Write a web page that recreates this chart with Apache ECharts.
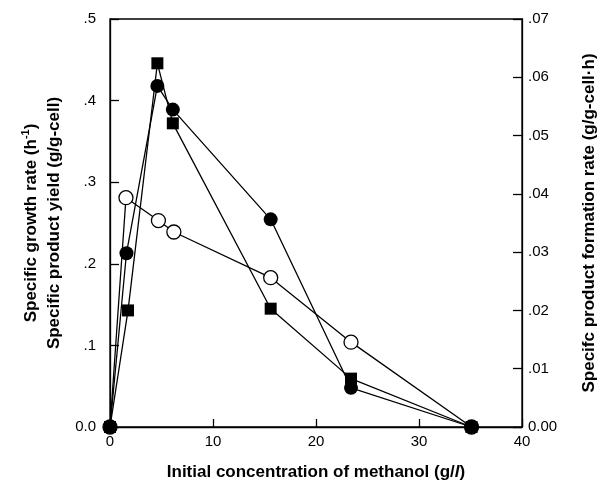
<!DOCTYPE html>
<html>
<head>
<meta charset="utf-8">
<script src="https://cdn.jsdelivr.net/npm/echarts@6/dist/echarts.min.js"></script>
<style>html,body{margin:0;padding:0;background:#fff}#c{width:606px;height:491px}</style>
</head>
<body>
<div id="c"></div>
<script>
// Open circles (left axis)
const openX = [0, 1.55, 4.7, 6.2, 15.6, 23.4, 35.1];
const openY = [0, 0.281, 0.253, 0.239, 0.183, 0.104, 0];
// Filled circles (left axis)
const filledX = [0, 1.6, 4.6, 6.1, 15.6, 23.4, 35.1];
const filledY = [0, 0.213, 0.418, 0.389, 0.2545, 0.048, 0];
// Filled squares (right axis)
const squareX = [0, 1.75, 4.6, 6.1, 15.6, 23.4, 35.1];
const squareY = [0, 0.0200, 0.0624, 0.0521, 0.0203, 0.0083, 0];

const xTicks = [0, 10, 20, 30, 40];
const leftTicks = ['0.0', '.1', '.2', '.3', '.4', '.5'];
const rightTicks = ['0.00', '.01', '.02', '.03', '.04', '.05', '.06', '.07'];

const pairs = (xs, ys) => xs.map((x, i) => [x, ys[i]]);
const FONT = '"Liberation Sans", Arial, sans-serif';

const chart = echarts.init(document.getElementById('c'));
chart.setOption({
  animation: false,
  grid: { left: 110, right: 84, top: 19, bottom: 64, show: true, borderColor: '#000', borderWidth: 1.3 },
  xAxis: {
    type: 'value', min: 0, max: 40, interval: 10,
    axisLine: { lineStyle: { color: '#000', width: 1.3 } },
    axisTick: { inside: true, length: 8, lineStyle: { color: '#000', width: 1.3 } },
    splitLine: { show: false },
    axisLabel: { color: '#000', fontSize: 15, fontFamily: FONT, margin: 7,
      formatter: v => String(xTicks[Math.round(v / 10)]) },
    name: '{a|Initial concentration of methanol (g/}{i|l}{a|)}',
    nameLocation: 'middle', nameGap: 37,
    nameTextStyle: { color: '#000', fontFamily: FONT,
      rich: {
        a: { fontSize: 17, fontWeight: 'bold', color: '#000', fontFamily: FONT },
        i: { fontSize: 17, fontWeight: 'bold', fontStyle: 'italic', color: '#000', fontFamily: FONT }
      } }
  },
  yAxis: [{
    type: 'value', min: 0, max: 0.5, interval: 0.1, position: 'left',
    axisLine: { show: true, lineStyle: { color: '#000', width: 1.3 } },
    axisTick: { show: true, inside: true, length: 9, lineStyle: { color: '#000', width: 1.3 } },
    splitLine: { show: false },
    axisLabel: { color: '#000', fontSize: 15, fontFamily: FONT, margin: 14,
      formatter: v => leftTicks[Math.round(v * 10)] },
    name: '{a|Specific growth rate (h}{s|-1}{a|)}\n{a|Specific product yield (g/g-cell)}',
    nameLocation: 'middle', nameRotate: 90, nameGap: 44,
    nameTextStyle: { color: '#000', fontFamily: FONT,
      rich: {
        a: { fontSize: 17, fontWeight: 'bold', color: '#000', fontFamily: FONT, lineHeight: 23 },
        s: { fontSize: 11, fontWeight: 'bold', color: '#000', fontFamily: FONT, verticalAlign: 'top', lineHeight: 23 }
      } }
  }, {
    type: 'value', min: 0, max: 0.07, interval: 0.01, position: 'right',
    axisLine: { show: true, lineStyle: { color: '#000', width: 1.3 } },
    axisTick: { show: true, inside: true, length: 9, lineStyle: { color: '#000', width: 1.3 } },
    splitLine: { show: false },
    axisLabel: { color: '#000', fontSize: 15, fontFamily: FONT, margin: 6,
      formatter: v => rightTicks[Math.round(v * 100)] },
    name: 'Specifc product formation rate (g/g-cell·h)',
    nameLocation: 'middle', nameRotate: 90, nameGap: 59,
    nameTextStyle: { color: '#000', fontSize: 17, fontWeight: 'bold', fontFamily: FONT }
  }],
  series: [{
    type: 'line', yAxisIndex: 0, data: pairs(openX, openY),
    symbol: 'circle', symbolSize: 14, showAllSymbol: true,
    lineStyle: { color: '#000', width: 1.3 },
    itemStyle: { color: '#fff', borderColor: '#000', borderWidth: 1.3 }, z: 2
  }, {
    type: 'line', yAxisIndex: 1, data: pairs(squareX, squareY),
    symbol: 'rect', symbolSize: 12, showAllSymbol: true,
    lineStyle: { color: '#000', width: 1.3 },
    itemStyle: { color: '#000', borderColor: '#000', borderWidth: 0 }, z: 3
  }, {
    type: 'line', yAxisIndex: 0, data: pairs(filledX, filledY),
    symbol: 'circle', symbolSize: 14, showAllSymbol: true,
    lineStyle: { color: '#000', width: 1.3 },
    itemStyle: { color: '#000', borderColor: '#000', borderWidth: 0 }, z: 4
  }]
});
</script>
</body>
</html>
